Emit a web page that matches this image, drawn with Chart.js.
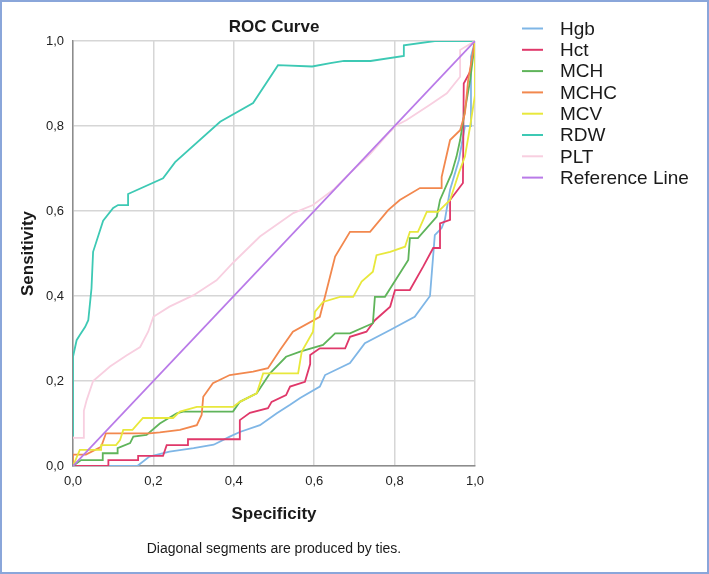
<!DOCTYPE html>
<html>
<head>
<meta charset="utf-8">
<script src="https://cdn.jsdelivr.net/npm/chart.js@4.4.1/dist/chart.umd.min.js"></script>
<style>
  html, body { margin: 0; padding: 0; background: #fff; }
  #wrap { width: 709px; height: 574px; }
</style>
</head>
<body>
<div id="wrap"><canvas id="roc" width="709" height="574"></canvas></div>
<script>
// Series labels (legend order)
const seriesNames = ['Hgb', 'Hct', 'MCH', 'MCHC', 'MCV', 'RDW', 'PLT', 'Reference Line'];

// Axis ticks
const tickValues = [0, 0.2, 0.4, 0.6, 0.8, 1.0];

// Curve points (x = specificity axis, y = sensitivity)
const hgbX = [0, 0.16, 0.19, 0.24, 0.30, 0.35, 0.39, 0.415, 0.465, 0.507, 0.54, 0.565, 0.614, 0.627, 0.689, 0.726, 0.789, 0.85, 0.888, 0.90, 0.917, 0.925, 0.938, 0.96, 0.975, 0.99, 0.99, 1.0];
const hgbY = [0, 0, 0.022, 0.034, 0.042, 0.05, 0.069, 0.08, 0.096, 0.124, 0.144, 0.16, 0.187, 0.214, 0.242, 0.289, 0.32, 0.351, 0.40, 0.543, 0.56, 0.579, 0.65, 0.72, 0.80, 0.80, 0.963, 1.0];

const hctX = [0, 0.088, 0.088, 0.162, 0.162, 0.224, 0.233, 0.286, 0.286, 0.415, 0.415, 0.44, 0.485, 0.494, 0.53, 0.54, 0.577, 0.59, 0.59, 0.614, 0.677, 0.689, 0.73, 0.751, 0.789, 0.801, 0.838, 0.871, 0.896, 0.913, 0.913, 0.938, 0.938, 0.97, 0.972, 0.988, 1.0];
const hctY = [0, 0, 0.014, 0.014, 0.024, 0.024, 0.049, 0.049, 0.063, 0.063, 0.108, 0.125, 0.136, 0.151, 0.167, 0.187, 0.198, 0.24, 0.261, 0.277, 0.277, 0.304, 0.316, 0.343, 0.375, 0.414, 0.414, 0.469, 0.513, 0.513, 0.571, 0.579, 0.626, 0.666, 0.90, 0.928, 1.0];

const mchX = [0, 0.02, 0.074, 0.074, 0.111, 0.111, 0.142, 0.15, 0.183, 0.216, 0.258, 0.274, 0.398, 0.415, 0.457, 0.49, 0.53, 0.565, 0.622, 0.652, 0.689, 0.746, 0.751, 0.776, 0.834, 0.838, 0.858, 0.905, 0.913, 0.942, 0.954, 0.963, 0.975, 0.988, 1.0];
const mchY = [0, 0.014, 0.014, 0.03, 0.03, 0.042, 0.054, 0.069, 0.073, 0.10, 0.124, 0.128, 0.128, 0.151, 0.171, 0.218, 0.257, 0.269, 0.285, 0.312, 0.312, 0.336, 0.398, 0.398, 0.485, 0.536, 0.536, 0.587, 0.626, 0.689, 0.728, 0.767, 0.838, 0.908, 1.0];

const mchcX = [0, 0, 0.032, 0.07, 0.082, 0.19, 0.216, 0.266, 0.308, 0.32, 0.324, 0.348, 0.39, 0.448, 0.485, 0.515, 0.547, 0.614, 0.631, 0.652, 0.689, 0.739, 0.784, 0.813, 0.863, 0.917, 0.917, 0.938, 0.963, 0.975, 0.983, 1.0];
const mchcY = [0, 0.027, 0.027, 0.045, 0.077, 0.077, 0.079, 0.085, 0.096, 0.12, 0.163, 0.195, 0.214, 0.222, 0.23, 0.273, 0.316, 0.351, 0.414, 0.493, 0.551, 0.551, 0.602, 0.626, 0.654, 0.654, 0.68, 0.767, 0.79, 0.83, 0.908, 1.0];

const mcvX = [0, 0.017, 0.07, 0.07, 0.107, 0.117, 0.125, 0.148, 0.174, 0.249, 0.266, 0.308, 0.398, 0.415, 0.457, 0.473, 0.56, 0.569, 0.597, 0.602, 0.622, 0.664, 0.697, 0.718, 0.746, 0.755, 0.789, 0.826, 0.838, 0.858, 0.88, 0.908, 0.938, 0.96, 0.975, 0.988, 1.0, 1.0];
const mcvY = [0, 0.038, 0.038, 0.049, 0.049, 0.061, 0.085, 0.085, 0.113, 0.113, 0.128, 0.139, 0.139, 0.151, 0.171, 0.218, 0.218, 0.269, 0.316, 0.363, 0.386, 0.398, 0.398, 0.434, 0.457, 0.496, 0.504, 0.516, 0.551, 0.551, 0.598, 0.598, 0.626, 0.69, 0.728, 0.80, 0.873, 1.0];

const rdwX = [0, 0, 0.009, 0.017, 0.03, 0.038, 0.046, 0.05, 0.075, 0.10, 0.112, 0.137, 0.137, 0.224, 0.254, 0.366, 0.448, 0.51, 0.595, 0.64, 0.674, 0.74, 0.823, 0.823, 0.90, 1.0];
const rdwY = [0.07, 0.257, 0.296, 0.308, 0.327, 0.343, 0.418, 0.504, 0.577, 0.607, 0.614, 0.614, 0.64, 0.677, 0.715, 0.81, 0.854, 0.943, 0.94, 0.948, 0.953, 0.953, 0.965, 0.99, 1.0, 1.0];

const pltX = [0, 0.027, 0.027, 0.034, 0.05, 0.092, 0.133, 0.167, 0.187, 0.20, 0.24, 0.30, 0.357, 0.40, 0.465, 0.548, 0.597, 0.65, 0.689, 0.74, 0.789, 0.805, 0.83, 0.888, 0.93, 0.963, 0.963, 1.0];
const pltY = [0.066, 0.066, 0.13, 0.155, 0.20, 0.234, 0.26, 0.28, 0.316, 0.351, 0.375, 0.402, 0.437, 0.48, 0.54, 0.595, 0.614, 0.652, 0.689, 0.735, 0.787, 0.802, 0.814, 0.85, 0.877, 0.916, 0.979, 1.0];

const refX = [0, 1];
const refY = [0, 1];

const seriesColors = ['#7fb6e6', '#e0386a', '#5fb45a', '#f2884e', '#e8e83c', '#3dc9b4', '#f8cfe0', '#b97ae8'];

const FONT = "'Liberation Sans', Arial, Helvetica, sans-serif";

function toPoints(xs, ys) {
    return xs.map((x, i) => ({ x: x, y: ys[i] }));
}

function fmtTick(v) {
    return Number(v).toFixed(1).replace('.', ',');
}

const allX = [hgbX, hctX, mchX, mchcX, mcvX, rdwX, pltX, refX];
const allY = [hgbY, hctY, mchY, mchcY, mcvY, rdwY, pltY, refY];

const datasets = seriesNames.map((name, i) => ({
    label: name,
    data: toPoints(allX[i], allY[i]),
    borderColor: seriesColors[i],
    backgroundColor: seriesColors[i],
    borderWidth: 1.8,
    pointRadius: 0,
    showLine: true,
    tension: 0,
    order: seriesNames.length - i
}));

// white page with the thin blue frame
const framePlugin = {
    id: 'frame',
    beforeDraw(chart) {
        const ctx = chart.ctx;
        ctx.save();
        ctx.fillStyle = '#ffffff';
        ctx.fillRect(0, 0, chart.width, chart.height);
        ctx.strokeStyle = '#8aa6da';
        ctx.lineWidth = 2;
        ctx.strokeRect(1, 1, chart.width - 2, chart.height - 2);
        ctx.restore();
    }
};

// legend to the right, line sample + label
const sideLegend = {
    id: 'sideLegend',
    afterDraw(chart) {
        const ctx = chart.ctx;
        const x0 = 522, x1 = 543, tx = 560;
        const top = 28.5, step = 21.3;
        ctx.save();
        ctx.font = '19px ' + FONT;
        ctx.textBaseline = 'middle';
        ctx.textAlign = 'left';
        chart.data.datasets.forEach((ds, i) => {
            const y = top + i * step;
            ctx.strokeStyle = ds.borderColor;
            ctx.lineWidth = 2;
            ctx.beginPath();
            ctx.moveTo(x0, y);
            ctx.lineTo(x1, y);
            ctx.stroke();
            ctx.fillStyle = '#1a1a1a';
            ctx.fillText(ds.label, tx, y + 1);
        });
        ctx.restore();
    }
};

new Chart(document.getElementById('roc'), {
    type: 'scatter',
    data: { datasets: datasets },
    plugins: [framePlugin, sideLegend],
    options: {
        responsive: false,
        animation: false,
        devicePixelRatio: 1,
        layout: { padding: { top: 8, right: 234, bottom: 0, left: 0 } },
        plugins: {
            legend: { display: false },
            tooltip: { enabled: false },
            title: {
                display: true,
                text: 'ROC Curve',
                fullSize: false,
                color: '#1a1a1a',
                font: { family: FONT, size: 17, weight: 'bold' },
                padding: { top: 9, bottom: 3.6 }
            },
            subtitle: {
                display: true,
                text: 'Diagonal segments are produced by ties.',
                position: 'bottom',
                fullSize: false,
                color: '#1a1a1a',
                font: { family: FONT, size: 14 },
                padding: { top: 0, bottom: 16.6 }
            }
        },
        scales: {
            x: {
                type: 'linear',
                min: 0,
                max: 1,
                afterFit(scale) { scale.height = 74.6; },
                afterBuildTicks(scale) { scale.ticks = tickValues.map(v => ({ value: v })); },
                ticks: {
                    callback: fmtTick,
                    color: '#222',
                    font: { family: FONT, size: 13 },
                    padding: 8,
                    maxRotation: 0
                },
                grid: { color: '#d6d6d6', lineWidth: 1.5, drawTicks: false },
                border: { color: '#8c8c8c', width: 1.5 },
                title: {
                    display: true,
                    text: 'Specificity',
                    color: '#1a1a1a',
                    font: { family: FONT, size: 17, weight: 'bold' },
                    padding: { top: 0, bottom: 16.4 }
                }
            },
            y: {
                type: 'linear',
                min: 0,
                max: 1,
                afterFit(scale) { scale.width = 73; },
                afterBuildTicks(scale) { scale.ticks = tickValues.map(v => ({ value: v })); },
                ticks: {
                    callback: fmtTick,
                    color: '#222',
                    font: { family: FONT, size: 13 },
                    padding: 9
                },
                grid: { color: '#d6d6d6', lineWidth: 1.5, drawTicks: false },
                border: { color: '#8c8c8c', width: 1.5 },
                title: {
                    display: true,
                    text: 'Sensitivity',
                    color: '#1a1a1a',
                    font: { family: FONT, size: 17, weight: 'bold' },
                    padding: { top: 17.8, bottom: 0 }
                }
            }
        }
    }
});
</script>
</body>
</html>
